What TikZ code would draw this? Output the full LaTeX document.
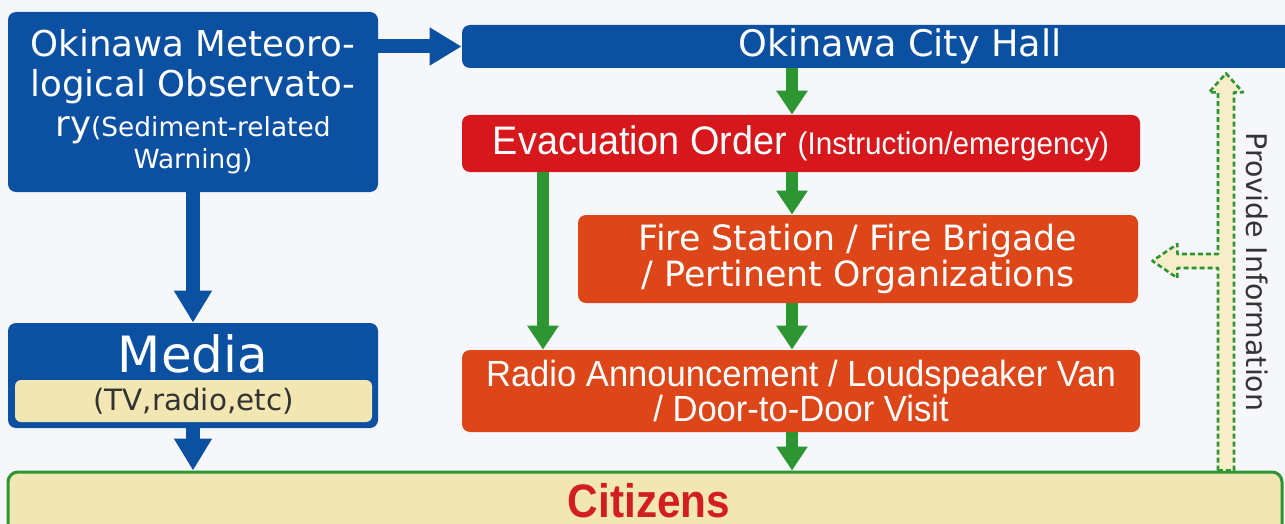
\documentclass[tikz,border=0pt]{standalone}
\usepackage{fontspec}
\setmainfont{DejaVu Sans}
\newfontfamily\narrowfont[FakeStretch=0.95]{Liberation Sans}
\newfontfamily\citfont[FakeStretch=0.9]{Liberation Sans}
\usetikzlibrary{arrows.meta, calc}
\definecolor{obsblue}{RGB}{12,80,162}
\definecolor{evacred}{RGB}{214,24,28}
\definecolor{fireorange}{RGB}{221,70,25}
\definecolor{arrowgreen}{RGB}{45,150,50}
\definecolor{paleyellow}{RGB}{242,230,178}
\definecolor{citred}{RGB}{210,30,35}
\definecolor{bgpaper}{RGB}{246,247,250}

\begin{document}
\begin{tikzpicture}
[x=0.5pt, y=-0.5pt,
   boxB/.style={shape=rectangle, rounded corners=4pt, fill=obsblue, text=white, inner sep=0pt},
   boxR/.style={shape=rectangle, rounded corners=4pt, fill=evacred, text=white, inner sep=0pt},
   boxO/.style={shape=rectangle, rounded corners=4pt, fill=fireorange, text=white, inner sep=0pt},
   arrB/.style={draw=obsblue, line width=7pt, arrows={-Triangle[width=18pt,length=16pt]}},
   arrG/.style={draw=arrowgreen, line width=6pt, arrows={-Triangle[width=15pt,length=12pt]}},
   infoA/.style={draw=arrowgreen, line width=1.3pt, dash pattern=on 2.5pt off 1.5pt, fill=paleyellow!70, line join=round}]
\clip (0,0) rectangle (1285,524);
\fill[bgpaper] (0,0) rectangle (1285,524);
\node[boxB, minimum width=185pt, minimum height=90pt, align=center,
  font=\fontsize{17.8}{20}\selectfont] (Obs) at (193,102)
  {Okinawa Meteoro-\\logical Observato-\\ry{\fontsize{13.2}{15}\selectfont(Sediment-related}\\[-4pt]{\fontsize{13.2}{15}\selectfont Warning)}};
\node[boxB, minimum width=438pt, minimum height=21.5pt, font=\fontsize{18.3}{22}\selectfont] (Hall) at (900,46.5) {Okinawa City Hall};
\node[boxB, minimum width=185pt, minimum height=52.5pt] (Media) at (193,375.5) {};
\node[text=white, font=\fontsize{25}{30}\selectfont] (MediaT) at (193,354) {Media};
\node[shape=rectangle, rounded corners=3pt, fill=paleyellow, minimum width=178.5pt, minimum height=21pt, inner sep=0pt,
  text=black!80, font=\fontsize{14.7}{17}\selectfont] (MediaS) at (193.5,401) {(TV,radio,etc)};
\node[shape=rectangle, rounded corners=5pt, draw=arrowgreen, line width=1.5pt, fill=paleyellow,
  minimum width=637pt, minimum height=36pt] (Cit) at (645,508) {};
\node[text=citred, inner sep=0pt, font=\citfont\bfseries\fontsize{23.5}{28}\selectfont] (CitT) at (649,501) {Citizens};
\node[boxR, minimum width=339pt, minimum height=28.5pt, font=\narrowfont\fontsize{19.9}{22}\selectfont] (Evac) at (801,143.5)
  {Evacuation Order {\fontsize{15.6}{18}\selectfont(Instruction/emergency)}};
\node[boxO, minimum width=280pt, minimum height=44pt, align=center, font=\fontsize{17.4}{16.8}\selectfont] (Fire) at (858,259)
  {Fire Station / Fire Brigade\\/ Pertinent Organizations};
\node[boxO, minimum width=339pt, minimum height=41pt, align=center, font=\narrowfont\fontsize{18.2}{16.5}\selectfont] (Radio) at (801,391)
  {Radio Announcement / Loudspeaker Van\\/ Door-to-Door Visit};
\draw [arrB] (Obs.east |- Hall.west) -- (Hall.west);
\draw [arrB] (Obs) -- (Media);
\draw [arrB] (Media) -- (Media |- Cit.north);
\coordinate (mid) at (792,0);
\coordinate (lft) at (543,0);
\draw [arrG] (Hall.south -| mid) -- (Evac.north -| mid);
\draw [arrG] (Evac.south -| mid) -- (Fire.north -| mid);
\draw [arrG] (Evac.south -| lft) -- (Radio.north -| lft);
\draw [arrG] (Fire.south -| mid) -- (Radio.north -| mid);
\draw [arrG] (Radio.south -| mid) -- (Cit.north -| mid);
%% provide information
\coordinate (inf) at (1226,0);
\coordinate (iB) at (Cit.north -| inf);
\coordinate (iT) at ($(Hall.south -| inf)+(0,5)$);
\coordinate (iM) at ($(inf |- Fire.east)+(0,2)$);
\coordinate (iL) at ($(Fire.east |- iM)+(14,0)$);
\draw [infoA] ($(iB)+(-8,0)$) -- ($(iM)+(-8,7)$) -- ($(iL)+(25,7)$) -- ($(iL)+(25,17)$) -- (iL)
  -- ($(iL)+(25,-17)$) -- ($(iL)+(25,-7)$) -- ($(iM)+(-8,-7)$) -- ($(iT)+(-8,19)$) -- ($(iT)+(-17,19)$)
  -- (iT) -- ($(iT)+(17,19)$) -- ($(iT)+(8,19)$) -- ($(iB)+(8,0)$) -- cycle;
\node[rotate=-90, text=black!80, font=\fontsize{14.2}{16}\selectfont] (Info) at (1257,272) {Provide Information};
\end{tikzpicture}
\end{document}
